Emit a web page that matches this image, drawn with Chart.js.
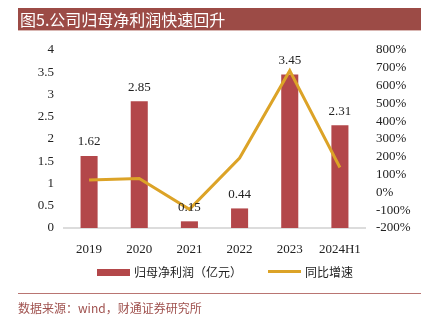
<!DOCTYPE html>
<html>
<head>
<meta charset="utf-8">
<script src="https://cdn.jsdelivr.net/npm/chart.js@4"></script>
<style>
  html, body { margin: 0; padding: 0; background: #fff; }
  #wrap { position: relative; width: 429px; height: 321px; overflow: hidden; }
  #c { position: absolute; left: 0; top: 0; }
  .title { position: absolute; left: 18px; top: 8px; width: 403px; height: 23px; background: #9c4b46;
    color: #fff; font: 16px "Noto Sans CJK SC", sans-serif; line-height: 23px; padding-left: 2px; box-sizing: border-box;
    border-bottom: 1px solid #d9b7b3; }
  .legend { position: absolute; top: 264px; font: 12px "Noto Sans CJK SC", sans-serif; color: #222; line-height: 16px; }
  .swatch { position: absolute; }
  .rule { position: absolute; left: 18px; top: 293px; width: 403px; height: 1px; background: #b97572; }
  .source { position: absolute; left: 18px; top: 300px; font: 12px "Noto Sans CJK SC", sans-serif; color: #a0524f; line-height: 16px; }
</style>
</head>
<body>
<div id="wrap">
  <canvas id="c" width="429" height="321"></canvas>
  <div class="title">图5.公司归母净利润快速回升</div>
  <div class="swatch" style="left:97px;top:269px;width:33px;height:7px;background:#b3474a;"></div>
  <div class="legend" style="left:134px;">归母净利润（亿元）</div>
  <div class="swatch" style="left:268px;top:270px;width:33px;height:3px;background:#dca327;"></div>
  <div class="legend" style="left:305px;">同比增速</div>
  <div class="rule"></div>
  <div class="source">数据来源：wind，财通证券研究所</div>
</div>
<script>
const years = ['2019', '2020', '2021', '2022', '2023', '2024H1'];
const netProfit = [1.62, 2.85, 0.15, 0.44, 3.45, 2.31];
const growthPct = [70, 78, -95, 193, 684, 140];

const barRed = '#b3474a';
const gold = '#dca327';
const numFont = { family: '"Liberation Serif", "Times New Roman", serif', size: 13 };

const barLabels = {
  id: 'barLabels',
  afterDatasetsDraw(chart) {
    const ctx = chart.ctx;
    const meta = chart.getDatasetMeta(0);
    ctx.save();
    ctx.font = '13px "Liberation Serif", serif';
    ctx.fillStyle = '#222';
    ctx.textAlign = 'center';
    ctx.textBaseline = 'middle';
    meta.data.forEach((bar, i) => {
      ctx.fillText(netProfit[i].toFixed(2), bar.x, bar.y - 14);
    });
    ctx.restore();
  },
};

new Chart(document.getElementById('c'), {
  data: {
    labels: years,
    datasets: [
      {
        type: 'bar',
        label: '归母净利润（亿元）',
        data: netProfit,
        backgroundColor: barRed,
        barPercentage: 0.34,
        categoryPercentage: 1,
        yAxisID: 'y',
        order: 1,
      },
      {
        type: 'line',
        label: '同比增速',
        data: growthPct,
        borderColor: gold,
        borderWidth: 3,
        tension: 0,
        pointRadius: 0,
        fill: false,
        yAxisID: 'y1',
        order: 0,
      },
    ],
  },
  options: {
    responsive: false,
    animation: false,
    layout: { padding: { top: 50, left: 0, right: 0, bottom: 0 } },
    plugins: { legend: { display: false }, tooltip: { enabled: false } },
    scales: {
      x: {
        grid: { display: false },
        border: { display: true, color: '#dcdcdc', width: 2 },
        ticks: { color: '#222', font: numFont, padding: 6 },
        afterFit(s) { s.height = 93; },
      },
      y: {
        position: 'left',
        min: 0,
        max: 4,
        ticks: { stepSize: 0.5, autoSkip: false, color: '#222', font: numFont, padding: 10,
          callback: (v) => String(Math.round(v * 10) / 10) },
        grid: { display: false, drawTicks: false },
        border: { display: false },
        afterFit(s) { s.width = 64; },
      },
      y1: {
        position: 'right',
        min: -200,
        max: 800,
        ticks: { stepSize: 100, autoSkip: false, color: '#222', font: numFont, padding: 11,
          callback: (v) => v + '%' },
        grid: { display: false, drawTicks: false },
        border: { display: false },
        afterFit(s) { s.width = 64; },
      },
    },
  },
  plugins: [barLabels],
});
</script>
</body>
</html>
